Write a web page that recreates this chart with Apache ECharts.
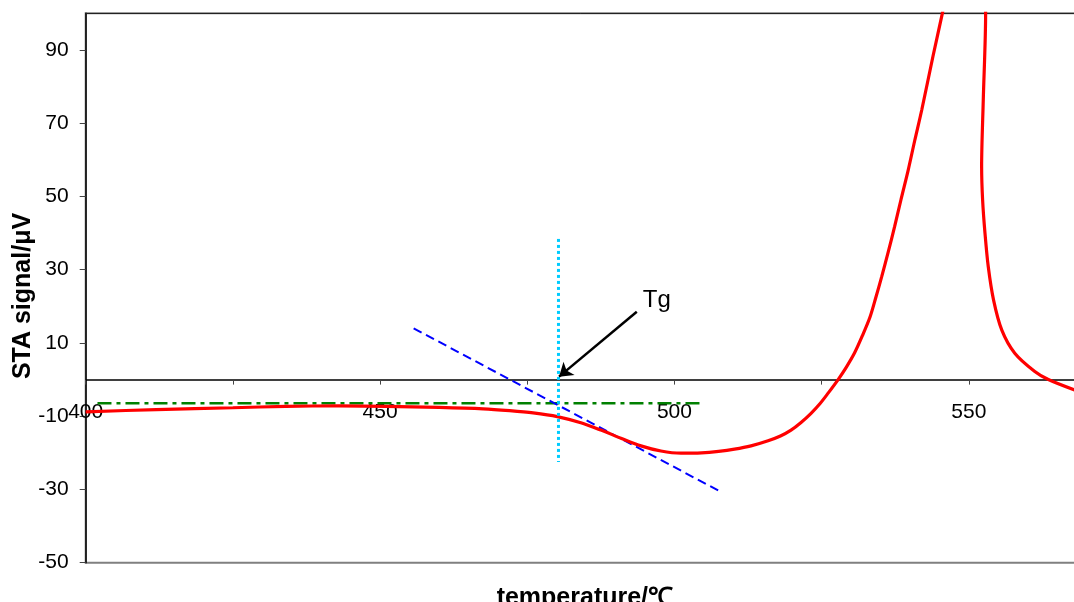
<!DOCTYPE html>
<html>
<head>
<meta charset="utf-8">
<script src="https://cdn.jsdelivr.net/npm/echarts@6/dist/echarts.min.js"></script>
<style>
html, body { margin: 0; padding: 0; background: #fff; }
#chart { width: 1074px; height: 602px; }
</style>
</head>
<body>
<div id="chart"></div>
<script>
// STA signal vs temperature
var tempC = [400, 412, 425, 434, 443, 451, 460, 467.5, 472, 476, 480.1, 484.1, 487.5, 490.9, 494.3, 497.7, 501.1, 504.6,
    507.5, 510.2, 513, 515.9, 518, 519.8, 521.5, 523.2, 524.7, 526.1, 527.8, 529.2, 530.6, 531.9, 533.2, 534.2, 535.2,
    536.3, 537.4, 538.5, 539.7, 540.8, 542.0, 543.9, 545.5,
    547, 549, 550.5, 552.5, 552.85, 552.45, 552.17, 552.34, 552.74, 553.3, 554.2, 555.6, 557.8, 561.2, 563.5, 568.2];
var signalUV = [-8.8, -8.2, -7.7, -7.3, -7.2, -7.3, -7.6, -8.0, -8.5, -9.1, -10.1, -11.8, -13.8, -16.0, -18.1, -19.5, -20.1, -20.0,
    -19.6, -19.0, -18.1, -16.7, -15.4, -13.8, -11.7, -9.2, -6.6, -3.7, 0, 3.4, 7.3, 11.9, 17.0, 22.4, 28.1,
    34.8, 41.8, 49.3, 57.2, 65.2, 73.6, 88.2, 100,
    112, 128, 135, 125, 100, 76.3, 58.1, 49, 40, 30.8, 21.7, 13.5, 7.2, 2.2, 0, -3.0];

var baselineGreen = [[402, -6.5], [504.6, -6.5]];
var tangentBlue = [[455.7, 14.0], [507.8, -30.6]];
var tgVertical = [[480.3, 38.4], [480.3, -22.5]];
var tgArrow = [[493.6, 18.5], [480.4, 0.8]];
var tgLabelPos = [497.0, 21.7];

var xLabels = [400, 450, 500, 550];
var xTicks = [400, 425, 450, 475, 500, 525, 550];
var yLabels = [-50, -30, -10, 10, 30, 50, 70, 90];

var font = "'Liberation Sans', Arial, sans-serif";

var redData = [];
for (var i = 0; i < tempC.length; i++) {
    redData.push([tempC[i], signalUV[i]]);
}

var myChart = echarts.init(document.getElementById('chart'));
var option = {
    backgroundColor: '#fff',
    animation: false,
    grid: {
        left: 85.7,
        right: -2,
        top: 13.3,
        bottom: 39.3,
        outerBoundsMode: 'none',
        containLabel: false,
        show: true,
        borderColor: '#808080',
        borderWidth: 2
    },
    xAxis: [{
        type: 'value',
        min: 400,
        max: 568.2,
        position: 'bottom',
        // axis sits on y = 0 (183 px above the grid bottom)
        offset: -183.1,
        axisLine: { onZero: false, lineStyle: { color: '#000', width: 1.5 } },
        axisTick: { show: true, inside: false, length: 5, customValues: xTicks, lineStyle: { color: '#444' } },
        axisLabel: { customValues: xLabels, margin: 22, fontSize: 21, color: '#000', fontFamily: font },
        splitLine: { show: false },
        name: 'temperature/℃',
        nameLocation: 'middle',
        nameGap: 206,
        nameMoveOverlap: false,
        nameTextStyle: { fontSize: 25, fontWeight: 'bold', color: '#000', fontFamily: font, padding: [0, 0, 0, 8] }
    }, {
        type: 'value',
        min: 400,
        max: 568.2,
        position: 'top',
        axisLine: { onZero: false, lineStyle: { color: '#222', width: 1 } },
        axisTick: { show: false },
        axisLabel: { show: false },
        splitLine: { show: false }
    }],
    yAxis: {
        type: 'value',
        min: -50,
        max: 100,
        axisLine: { show: true, onZero: false, lineStyle: { color: '#000', width: 1.5 } },
        axisTick: { show: true, length: 6, customValues: yLabels, lineStyle: { color: '#444' } },
        axisLabel: { customValues: yLabels, margin: 17, fontSize: 21, color: '#000', fontFamily: font },
        splitLine: { show: false },
        name: 'STA signal/μV',
        nameLocation: 'middle',
        nameGap: 50,
        nameMoveOverlap: false,
        nameTextStyle: { fontSize: 25, fontWeight: 'bold', color: '#000', fontFamily: font, padding: [0, 16, 0, 0] }
    },
    series: [{
        name: 'baseline',
        type: 'line',
        data: baselineGreen,
        symbol: 'none',
        lineStyle: { color: '#008000', width: 2.5, type: [14, 5, 4, 5] }
    }, {
        name: 'tangent',
        type: 'line',
        data: tangentBlue,
        symbol: 'none',
        lineStyle: { color: '#0000FF', width: 2, type: [9, 5] }
    }, {
        name: 'STA',
        type: 'line',
        data: redData,
        symbol: 'none',
        smooth: 0.3,
        lineStyle: { color: '#FF0000', width: 3.2 }
    }, {
        name: 'Tg',
        type: 'line',
        data: tgVertical,
        symbol: 'none',
        lineStyle: { color: '#00CCFF', width: 3, type: [3, 3] },
        markLine: {
            silent: true,
            symbol: ['none', 'arrow'],
            symbolSize: 13,
            label: { show: false },
            lineStyle: { color: '#000', width: 2.5, type: 'solid' },
            data: [[{ coord: tgArrow[0] }, { coord: tgArrow[1] }]]
        },
        markPoint: {
            silent: true,
            symbol: 'circle',
            symbolSize: 0,
            label: { show: true, position: 'inside', formatter: 'Tg', fontSize: 24, color: '#000', fontFamily: font },
            data: [{ coord: tgLabelPos }]
        }
    }]
};
myChart.setOption(option);
</script>
</body>
</html>
